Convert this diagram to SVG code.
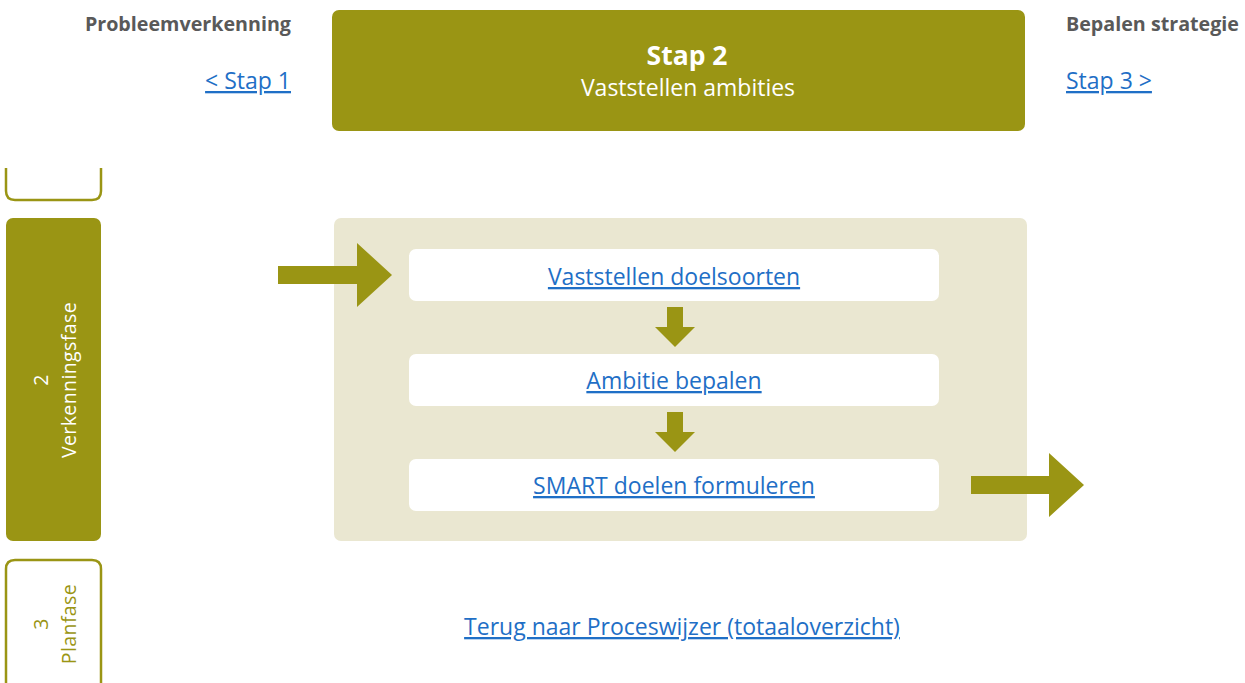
<svg xmlns="http://www.w3.org/2000/svg" width="1245" height="683" viewBox="0 0 1245 683">
<style>
.olive{fill:#9a9514}
.hdr{font-family:"Open Sans",sans-serif;font-weight:bold;font-size:19.7px;fill:#595959}
.link{font-family:"Open Sans",sans-serif;fill:#1f6fc6;text-decoration:underline}
.white{fill:#ffffff}
.vt{font-family:"Open Sans",sans-serif;font-size:19.5px;letter-spacing:0.4px;text-anchor:middle}
</style>
<rect width="1245" height="683" fill="#ffffff"/>
<g id="nav-prev">
<text class="hdr" x="291" y="31" text-anchor="end">Probleemverkenning</text>
<text class="link" x="291" y="89" text-anchor="end" font-size="23">&lt; Stap 1</text>
</g>
<g id="title">
<rect x="332" y="10" width="693" height="121" rx="7" class="olive"/>
<text x="687" y="65" text-anchor="middle" font-family="Open Sans, sans-serif" font-weight="bold" font-size="26.5" fill="#fff">Stap 2</text>
<text x="688" y="96" text-anchor="middle" font-family="Open Sans, sans-serif" font-size="23" fill="#fff">Vaststellen ambities</text>
</g>
<g id="nav-next">
<text class="hdr" x="1066" y="31">Bepalen strategie</text>
<text class="link" x="1066" y="89" font-size="23">Stap 3 &gt;</text>
</g>
<g id="phase1">
<path d="M6,168 V191 Q6,200 15,200 H92 Q101,200 101,191 V168" fill="none" stroke="#9a9514" stroke-width="2.5"/>
</g>
<g id="phase2">
<rect x="6" y="218" width="95" height="323" rx="7" class="olive"/>
<g transform="translate(53,380) rotate(-90)">
<text class="vt" y="-5" fill="#fff">2</text>
<text class="vt" y="22.5" fill="#fff">Verkenningsfase</text>
</g>
</g>
<g id="phase3">
<path d="M6,690 V569 Q6,560 15,560 H92 Q101,560 101,569 V690" fill="none" stroke="#9a9514" stroke-width="2.5"/>
<g transform="translate(53,624) rotate(-90)">
<text class="vt" y="-5" fill="#9a9514">3</text>
<text class="vt" y="22.5" fill="#9a9514">Planfase</text>
</g>
</g>
<g id="panel">
<rect x="334" y="218" width="693" height="323" rx="7" fill="#eae7d1"/>
</g>
<g id="step1">
<rect x="409" y="249" width="530" height="52" rx="7" class="white"/>
<text class="link" x="674" y="285" text-anchor="middle" font-size="23">Vaststellen doelsoorten</text>
</g>
<g id="step2">
<rect x="409" y="354" width="530" height="52" rx="7" class="white"/>
<text class="link" x="674" y="389" text-anchor="middle" font-size="23">Ambitie bepalen</text>
</g>
<g id="step3">
<rect x="409" y="459" width="530" height="52" rx="7" class="white"/>
<text class="link" x="674" y="494" text-anchor="middle" font-size="23">SMART doelen formuleren</text>
</g>
<g id="back">
<text class="link" x="682" y="635" text-anchor="middle" font-size="23">Terug naar Proceswijzer (totaaloverzicht)</text>
</g>
<g id="connectors" class="olive">
<polygon points="278,266 357,266 357,243 392,275 357,307 357,284 278,284"/>
<polygon points="667,307 683,307 683,327 695,327 675,347 655,327 667,327"/>
<polygon points="667,412 683,412 683,432 695,432 675,452 655,432 667,432"/>
<polygon points="971,476 1049,476 1049,453 1084,485 1049,517 1049,494 971,494"/>
</g>
</svg>
